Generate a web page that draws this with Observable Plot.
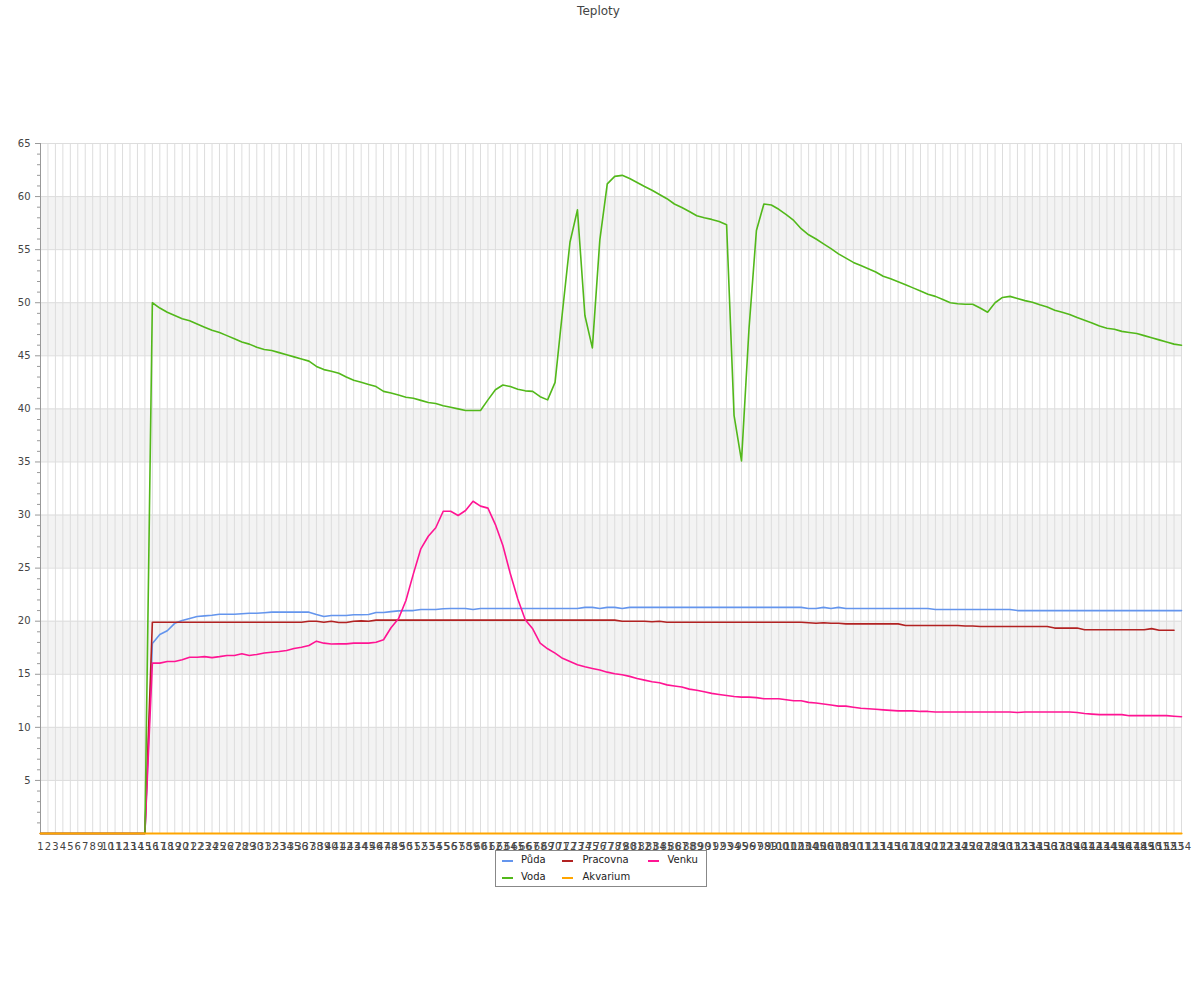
<!DOCTYPE html>
<html><head><meta charset="utf-8">
<script src="https://cdn.jsdelivr.net/npm/d3@7"></script>
<script src="https://cdn.jsdelivr.net/npm/@observablehq/plot@0.6"></script>
<style>
body{margin:0;background:#fff;font-family:"DejaVu Sans",sans-serif;}
#wrap{position:relative;width:1200px;height:1000px;}
#chart{position:absolute;left:0;top:0;}
#title{position:absolute;top:4px;left:0;width:1197px;text-align:center;font-size:12px;line-height:14px;color:#444;}
#legend{position:absolute;left:495px;top:850px;width:210px;height:35px;border:1px solid #888;background:#fff;font-size:10px;color:#222;}
#legend .sw{position:absolute;height:2px;width:11px;}
#legend .lb{position:absolute;line-height:12px;white-space:nowrap;}
</style></head><body>
<div id="wrap"><div id="chart"></div><div id="title">Teploty</div><div id="legend"></div></div>
<script>
const title = "Teploty";
const categories = d3.range(1, 155);
const yTicks = [5,10,15,20,25,30,35,40,45,50,55,60,65];
const yMinor = [1,2,3,4,6,7,8,9,11,12,13,14,16,17,18,19,21,22,23,24,26,27,28,29,31,32,33,34,36,37,38,39,41,42,43,44,46,47,48,49,51,52,53,54,56,57,58,59,61,62,63,64];
const bandStarts = [5,15,25,35,45,55];

const seriesNames = ["Půda","Pracovna","Venku","Voda","Akvarium"];
const seriesColors = ["#6495ED","#B22222","#FF1493","#52B81A","#FFA500"];
const seriesWidths = [1.6,1.6,1.6,1.6,2.2];

const puda = [0,0,0,0,0,0,0,0,0,0,0,0,0,0,0,
17.9,18.75,19.1,19.8,20.07,20.25,20.44,20.5,20.56,20.66,20.66,20.66,20.7,20.75,20.75,
20.8,20.85,20.85,20.85,20.85,20.85,20.85,20.63,20.44,20.54,20.54,20.54,20.6,20.6,20.63,
20.82,20.82,20.9,20.97,21.0,21.0,21.1,21.1,21.1,21.17,21.2,21.2,21.2,21.1,21.2,
21.2,21.2,21.2,21.2,21.2,21.2,21.2,21.2,21.2,21.2,21.2,21.2,21.2,21.3,21.3,
21.2,21.3,21.3,21.2,21.3,21.3,21.3,21.3,21.3,21.3,21.3,21.3,21.3,21.3,21.3,
21.3,21.3,21.3,21.3,21.3,21.3,21.3,21.3,21.3,21.3,21.3,21.3,21.3,21.2,21.2,
21.3,21.2,21.3,21.2,21.2,21.2,21.2,21.2,21.2,21.2,21.2,21.2,21.2,21.2,21.2,
21.1,21.1,21.1,21.1,21.1,21.1,21.1,21.1,21.1,21.1,21.1,21.0,21.0,21.0,21.0,
21.0,21.0,21.0,21.0,21.0,21.0,21.0,21.0,21.0,21.0,21.0,21.0,21.0,21.0,21.0,
21.0,21.0,21.0,21.0];

const pracovna = [0,0,0,0,0,0,0,0,0,0,0,0,0,0,0,
19.9,19.9,19.9,19.9,19.9,19.9,19.9,19.9,19.9,19.9,19.9,19.9,19.9,19.9,19.9,
19.9,19.9,19.9,19.9,19.9,19.9,20.0,20.0,19.9,20.0,19.87,19.87,20.0,20.03,20.0,
20.1,20.1,20.1,20.1,20.1,20.1,20.1,20.1,20.1,20.1,20.1,20.1,20.1,20.1,20.1,
20.1,20.1,20.1,20.1,20.1,20.1,20.1,20.1,20.1,20.1,20.1,20.1,20.1,20.1,20.1,
20.1,20.1,20.1,20.0,20.0,20.0,20.0,19.95,20.0,19.9,19.9,19.9,19.9,19.9,19.9,
19.9,19.9,19.9,19.9,19.9,19.9,19.9,19.9,19.9,19.9,19.9,19.9,19.9,19.85,19.8,
19.85,19.8,19.8,19.75,19.75,19.75,19.75,19.75,19.75,19.75,19.75,19.6,19.6,19.6,
19.6,19.6,19.6,19.6,19.6,19.55,19.55,19.5,19.5,19.5,19.5,19.5,19.5,19.5,19.5,
19.5,19.5,19.35,19.35,19.35,19.35,19.2,19.2,19.2,19.2,19.2,19.2,19.2,19.2,19.2,
19.3,19.15,19.15,19.15];

const venku = [0,0,0,0,0,0,0,0,0,0,0,0,0,0,0,
16.05,16.05,16.2,16.2,16.36,16.6,16.6,16.66,16.57,16.66,16.77,16.77,16.93,16.77,16.87,
17.0,17.08,17.14,17.24,17.43,17.55,17.71,18.12,17.93,17.85,17.86,17.86,17.93,17.93,17.93,
18.02,18.25,19.38,20.22,21.95,24.46,26.82,28.0,28.8,30.36,30.36,29.96,30.43,31.3,30.84,
30.65,29.1,27.13,24.46,22.1,20.13,19.28,17.93,17.4,16.99,16.5,16.2,15.9,15.7,15.55,
15.4,15.2,15.05,14.95,14.8,14.6,14.45,14.3,14.2,14.0,13.9,13.8,13.6,13.5,13.35,
13.2,13.1,13.0,12.9,12.85,12.85,12.8,12.7,12.7,12.7,12.6,12.5,12.5,12.35,12.3,
12.2,12.1,12.0,12.0,11.9,11.8,11.75,11.7,11.65,11.6,11.55,11.55,11.55,11.5,11.5,
11.45,11.45,11.45,11.45,11.45,11.45,11.45,11.45,11.45,11.45,11.45,11.4,11.45,11.45,11.45,
11.45,11.45,11.45,11.45,11.4,11.3,11.25,11.2,11.2,11.2,11.2,11.1,11.1,11.1,11.1,
11.1,11.1,11.05,11.0];

const voda = [0,0,0,0,0,0,0,0,0,0,0,0,0,0,0,
50.0,49.5,49.1,48.8,48.5,48.3,48.0,47.7,47.4,47.2,46.9,46.6,46.3,46.1,45.8,
45.6,45.5,45.3,45.1,44.9,44.7,44.5,44.0,43.7,43.55,43.35,43.0,42.7,42.5,42.3,
42.1,41.65,41.5,41.3,41.1,41.0,40.8,40.6,40.5,40.3,40.15,40.0,39.85,39.85,39.85,
40.85,41.8,42.25,42.1,41.85,41.7,41.65,41.15,40.85,42.5,49.2,55.7,58.75,48.8,45.75,
55.9,61.2,61.9,62.0,61.7,61.33,60.95,60.6,60.2,59.8,59.3,58.97,58.6,58.2,58.0,
57.85,57.65,57.35,39.4,35.1,47.5,56.8,59.3,59.2,58.8,58.3,57.75,56.97,56.4,56.0,
55.55,55.1,54.6,54.2,53.8,53.5,53.2,52.9,52.5,52.25,51.97,51.7,51.4,51.1,50.8,
50.6,50.3,50.0,49.9,49.85,49.85,49.5,49.1,50.0,50.5,50.6,50.4,50.2,50.05,49.8,
49.6,49.3,49.1,48.9,48.6,48.35,48.1,47.8,47.6,47.5,47.3,47.2,47.1,46.9,46.7,
46.5,46.3,46.1,46.0];

const akvarium = [0,0,0,0,0,0,0,0,0,0,0,0,0,0,0,0,0,0,0,0,0,0,0,0,0,0,0,0,0,0,
0,0,0,0,0,0,0,0,0,0,0,0,0,0,0,0,0,0,0,0,0,0,0,0,0,0,0,0,0,0,
0,0,0,0,0,0,0,0,0,0,0,0,0,0,0,0,0,0,0,0,0,0,0,0,0,0,0,0,0,0,
0,0,0,0,0,0,0,0,0,0,0,0,0,0,0,0,0,0,0,0,0,0,0,0,0,0,0,0,0,0,
0,0,0,0,0,0,0,0,0,0,0,0,0,0,0,0,0,0,0,0,0,0,0,0,0,0,0,0,0,0,
0,0,0,0];

const seriesData = [puda, pracovna, venku, voda, akvarium];

const chart = Plot.plot({
  width: 1200, height: 1000,
  marginLeft: 40, marginRight: 19, marginTop: 143, marginBottom: 167,
  style: {fontFamily: "DejaVu Sans", fontSize: "10px", background: "white", color: "#444"},
  x: {type: "linear", domain: [1, 154], label: null},
  y: {domain: [0, 65], label: null},
  marks: [
    Plot.rect(bandStarts, {y1: d => d, y2: d => d + 5, fill: "#f3f3f3"}),
    Plot.ruleX(categories, {stroke: "#dddddd", strokeWidth: 1}),
    Plot.ruleY(yTicks, {stroke: "#dddddd", strokeWidth: 1}),
    Plot.frame({anchor: "left", stroke: "#999"}),
    Plot.axisY(yTicks, {tickSize: 5, tickPadding: 5, stroke: "#999", fill: "#444", label: null}),
    Plot.axisY(yMinor, {tickSize: 3, tickFormat: () => "", stroke: "#999", label: null}),
    Plot.axisX(categories, {tickSize: 0, tickPadding: 9, tickFormat: d => String(d), fill: "#444", label: null}),
    ...seriesData.map((s, k) => Plot.lineY(s, {x: categories, stroke: seriesColors[k], strokeWidth: seriesWidths[k]}))
  ]
});
document.getElementById("chart").appendChild(chart);

const lg = document.getElementById("legend");
const pos = [[5.5,25],[66,86.5],[151.5,171.5]];
seriesNames.forEach((name, k) => {
  const col = k < 3 ? k : k - 3;
  const row = k < 3 ? 0 : 1;
  const y = row === 0 ? 9 : 26;
  const sw = document.createElement("div");
  sw.className = "sw";
  sw.style.left = pos[col][0] + "px";
  sw.style.top = y + "px";
  sw.style.background = seriesColors[k];
  lg.appendChild(sw);
  const lb = document.createElement("div");
  lb.className = "lb";
  lb.style.left = pos[col][1] + "px";
  lb.style.top = (y - 6) + "px";
  lb.textContent = name;
  lg.appendChild(lb);
});
</script>
</body></html>
